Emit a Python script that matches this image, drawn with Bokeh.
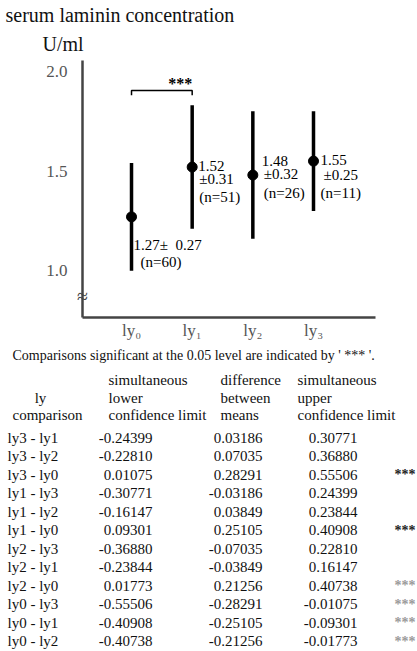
from bokeh.plotting import figure
from bokeh.models import (Range1d, FixedTicker, NumeralTickFormatter, ColumnDataSource,
                          LinearAxis)
from bokeh.core.properties import value
from bokeh.embed import file_html
from bokeh.resources import INLINE

# ---------------- data ----------------
groups = ["ly0", "ly1", "ly2", "ly3"]
group_labels = ["ly\u2080", "ly\u2081", "ly\u2082", "ly\u2083"]
means = [1.27, 1.52, 1.48, 1.55]
sds = [0.27, 0.31, 0.32, 0.25]
ns = [60, 51, 26, 11]
y_ticks = [1.0, 1.5, 2.0]
sig_pair = (0, 1)
sig_mark = "***"

comparisons = ["ly3 - ly1", "ly3 - ly2", "ly3 - ly0", "ly1 - ly3", "ly1 - ly2", "ly1 - ly0",
               "ly2 - ly3", "ly2 - ly1", "ly2 - ly0", "ly0 - ly3", "ly0 - ly1", "ly0 - ly2"]
lower_cl = [-0.24399, -0.22810, 0.01075, -0.30771, -0.16147, 0.09301,
            -0.36880, -0.23844, 0.01773, -0.55506, -0.40908, -0.40738]
diff_means = [0.03186, 0.07035, 0.28291, -0.03186, 0.03849, 0.25105,
              -0.07035, -0.03849, 0.21256, -0.28291, -0.25105, -0.21256]
upper_cl = [0.30771, 0.36880, 0.55506, 0.24399, 0.23844, 0.40908,
            0.22810, 0.16147, 0.40738, -0.01075, -0.09301, -0.01773]
signif = ["", "", "***", "", "", "***", "", "", "***", "***", "***", "***"]

title_text = "serum laminin concentration"
unit_text = "U/ml"
note_text = "Comparisons significant at the 0.05 level are indicated by ' *** '."
header_rows = [["simultaneous", "difference", "simultaneous"],
               ["lower", "between", "upper"],
               ["confidence limit", "means", "confidence limit"]]
first_col_header = ["ly", "comparison"]

# ---------------- layout constants ----------------
SERIF = "Liberation Serif"
W, H = 417, 651
FL, FR, FT, FB = 82, 375, 60, 317          # chart area edges on the canvas (pixels)
X_LO, X_HI = -0.808, 4.022                 # chart x extent (category index units)
Y_LO, Y_HI = 0.765, 2.055                  # chart y extent (U/ml)

# extend the chart ranges to the whole canvas so the chart sits at its place
sx = (X_HI - X_LO) / (FR - FL)
sy = (Y_HI - Y_LO) / (FB - FT)
chart_x = Range1d(X_LO - FL * sx, X_HI + (W - FR) * sx)
chart_y = Range1d(Y_LO - (H - FB) * sy, Y_HI + FT * sy)

p = figure(width=W, height=H, x_range=Range1d(0, W), y_range=Range1d(H, 0),
           output_backend="svg", toolbar_location=None, min_border=0,
           x_axis_type=None, y_axis_type=None)
p.grid.visible = False
p.outline_line_color = None
p.extra_x_ranges = {"chart": chart_x}
p.extra_y_ranges = {"chart": chart_y}

xs = list(range(len(groups)))

xaxis = LinearAxis(x_range_name="chart", fixed_location=FB, bounds=(X_LO, X_HI),
                   ticker=FixedTicker(ticks=xs),
                   major_label_overrides={i: lab for i, lab in zip(xs, group_labels)},
                   major_label_standoff=3)
yaxis = LinearAxis(y_range_name="chart", fixed_location=FL, bounds=(Y_LO, Y_HI),
                   ticker=FixedTicker(ticks=y_ticks),
                   formatter=NumeralTickFormatter(format="0.0"),
                   major_label_standoff=15)
for ax in (xaxis, yaxis):
    ax.major_label_text_font = SERIF
    ax.major_label_text_font_size = "17px"
    ax.major_label_text_color = "#555555"
    ax.axis_line_width = 2.5
    ax.axis_line_color = "#444444"
    ax.major_tick_line_color = None
    ax.minor_tick_line_color = None
    ax.major_tick_out = 0
    ax.major_tick_in = 0
p.add_layout(xaxis, "below")
p.add_layout(yaxis, "left")

CH = dict(x_range_name="chart", y_range_name="chart")

lo = [m - s for m, s in zip(means, sds)]
hi = [m + s for m, s in zip(means, sds)]
p.segment(x0=xs, y0=lo, x1=xs, y1=hi, line_width=3.5, line_color="black", **CH)
p.scatter(x=xs, y=means, size=10, color="black", **CH)

# value annotations next to each point
ann_x, ann_y, ann_t, ann_dx, ann_dy = [], [], [], [], []
offsets = [
    [(2, 28), (9, 45)],
    [(6, -1), (7, 12), (7, 30)],
    [(9, -14), (11, -1), (11, 18)],
    [(7, -1), (10, 14), (7, 32)],
]
for i in xs:
    if i == 0:
        texts = [f"{means[i]:.2f}\u00b1\u00a0\u00a0{sds[i]:.2f}", f"(n={ns[i]})"]
    else:
        texts = [f"{means[i]:.2f}", f"\u00b1{sds[i]:.2f}", f"(n={ns[i]})"]
    for t, (dx, dy) in zip(texts, offsets[i]):
        ann_x.append(i)
        ann_y.append(means[i])
        ann_t.append(t)
        ann_dx.append(dx)
        ann_dy.append(dy)
ann = ColumnDataSource(dict(x=ann_x, y=ann_y, text=ann_t, dx=ann_dx, dy=ann_dy))
p.text(x="x", y="y", text="text", x_offset="dx", y_offset="dy", source=ann,
       text_font=value(SERIF), text_font_size="15px", text_baseline="middle",
       text_color="black", **CH)

# significance bracket
a, b = sig_pair
by = max(hi[a], hi[b]) + 0.075
p.line(x=[a, a, b, b], y=[by - 0.025, by, by, by - 0.025], line_width=1.5,
       line_color="black", **CH)
p.text(x=[b], y=[by], text=[sig_mark], text_align="right", text_baseline="middle",
       y_offset=-7, text_font=value(SERIF), text_font_size="16px", text_font_style="bold",
       text_color="black", **CH)

# axis break mark
brk = p.text(x=[X_LO], y=[0.875], text=["\u2248"], text_align="center",
             text_baseline="middle", text_font=value(SERIF), text_font_size="20px",
             text_color="#444444", **CH)
brk.level = "overlay"

# ---------------- page texts (canvas pixel coordinates) ----------------
tx, ty, tt, tsize, talign, tcolor, tstyle = [], [], [], [], [], [], []


def put(x, y, text, size="15px", align="left", color="#111111", style="normal"):
    tx.append(x); ty.append(y); tt.append(text); tsize.append(size)
    talign.append(align); tcolor.append(color); tstyle.append(style)


put(5, 14, title_text, size="20px")
put(42, 43, unit_text, size="20px")

put(12, 355, note_text, size="14px")
head_y = [379, 397, 414]
col_left = [108, 220, 297]
for r, row in enumerate(header_rows):
    for c, t in enumerate(row):
        put(col_left[c], head_y[r], t)
put(40, head_y[1], first_col_header[0], align="center")
put(47, head_y[2], first_col_header[1], align="center")

row_y = [437 + 18.5 * i for i in range(len(comparisons))]
for i, y in enumerate(row_y):
    put(7, y, comparisons[i])
    put(152, y, f"{lower_cl[i]:.5f}", align="right")
    put(262, y, f"{diff_means[i]:.5f}", align="right")
    put(357, y, f"{upper_cl[i]:.5f}", align="right")
    if signif[i]:
        put(394, y, signif[i], size="14px", style="bold",
            color="#222222" if i < 8 else "#9a9a9a")

page = ColumnDataSource(dict(x=tx, y=ty, text=tt, size=tsize, align=talign,
                             color=tcolor, style=tstyle))
p.text(x="x", y="y", text="text", source=page, text_font=value(SERIF),
       text_font_size="size", text_align="align", text_color="color",
       text_font_style="style", text_baseline="middle")

open("out.html", "w").write(file_html(p, INLINE))
